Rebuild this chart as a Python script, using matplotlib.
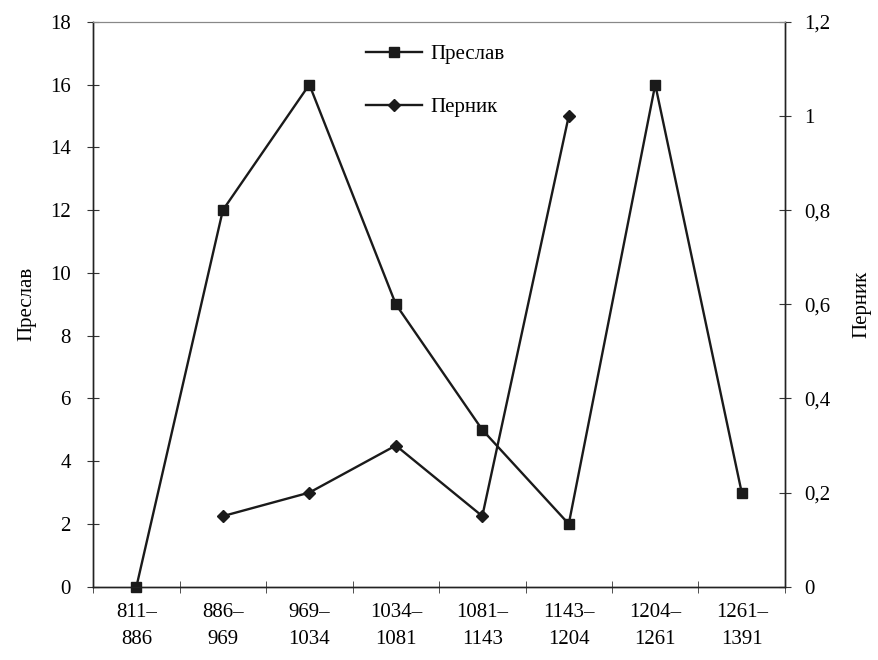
import numpy as np
import matplotlib.pyplot as plt
from matplotlib.ticker import FuncFormatter

plt.rcParams['font.family'] = ['Liberation Serif', 'DejaVu Serif']

periods = ['811–\n886', '886–\n969', '969–\n1034', '1034–\n1081',
           '1081–\n1143', '1143–\n1204', '1204–\n1261', '1261–\n1391']
preslav = [0, 12, 16, 9, 5, 2, 16, 3]
pernik = [np.nan, 0.15, 0.2, 0.3, 0.15, 1.0, np.nan, np.nan]

x = np.arange(len(periods))

fig = plt.figure(figsize=(8.79, 6.60), dpi=100)
ax = fig.add_axes([0.106, 0.111, 0.787, 0.856])
ax2 = ax.twinx()

l1, = ax.plot(x, preslav, color='#1a1a1a', lw=1.7, marker='s', ms=7,
              label='Преслав', clip_on=False, zorder=5)
l2, = ax2.plot(x, pernik, color='#1a1a1a', lw=1.7, marker='D', ms=6,
               label='Перник', clip_on=False, zorder=5)

ax.set_xlim(-0.5, len(periods) - 0.5)
ax.set_ylim(0, 18)
ax2.set_ylim(0, 1.2)
ax.set_yticks(np.arange(0, 19, 2))
ax2.set_yticks(np.arange(0, 1.21, 0.2))
ax2.yaxis.set_major_formatter(FuncFormatter(
    lambda v, p: ('%g' % round(v, 2)).replace('.', ',')))

ax.set_xticks(x)
ax.set_xticklabels(periods, linespacing=1.55)
ax.set_xticks(np.arange(-0.5, len(periods)), minor=True)
ax.tick_params(axis='x', which='major', length=0, pad=12, labelsize=15)
ax.tick_params(axis='x', which='minor', length=8, direction='inout',
               color='#333333')
ax.tick_params(axis='y', length=8, direction='inout', labelsize=15,
               color='#333333', pad=12)
ax2.tick_params(axis='y', length=8, direction='inout', labelsize=15,
                color='#333333', pad=10)

for a in (ax, ax2):
    for s in ('left', 'right', 'bottom'):
        a.spines[s].set_color('#222222')
        a.spines[s].set_linewidth(1.0)
    a.spines['top'].set_color('#888888')
    a.spines['top'].set_linewidth(0.8)

ax.set_ylabel('Преслав', fontsize=15, labelpad=10)
ax2.set_ylabel('Перник', fontsize=15, labelpad=16, rotation=90)

ax2.legend(handles=[l1, l2], loc='upper center',
           bbox_to_anchor=(0.495, 0.993), frameon=False, fontsize=15,
           labelspacing=1.6, handlelength=2.7, handletextpad=0.4)

fig.savefig('out.png', dpi=100, facecolor='white')
